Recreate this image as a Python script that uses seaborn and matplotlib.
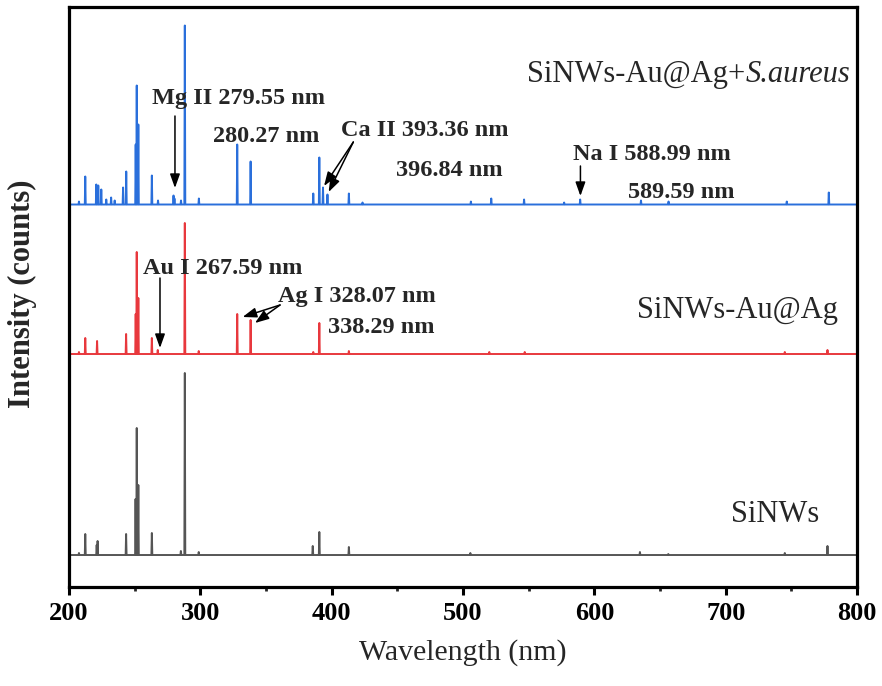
import numpy as np
import pandas as pd
import matplotlib
matplotlib.use("Agg")
import matplotlib.pyplot as plt
import seaborn as sns

# ---- data: emission lines (wavelength nm, relative intensity) ----
sinws_wl = [207.6, 212.4, 221.1, 221.8, 243.5, 250.7, 251.6, 252.8, 263.1, 285.2,
            288.2, 298.8, 385.6, 390.6, 413.1, 505.6, 634.7, 656.3, 745.0, 777.5]
sinws_int = [2, 21, 10, 14, 21, 56, 127, 70, 22, 4,
             182, 3, 9, 23, 8, 2, 3, 1, 2, 9]

auag_wl = [207.6, 212.4, 221.4, 243.5, 250.8, 251.6, 252.8, 263.1, 267.6, 288.2,
           298.8, 328.1, 338.3, 386.0, 390.6, 413.1, 520.0, 547.0, 745.0, 777.5]
auag_int = [2, 16, 13, 20, 40, 102, 56, 16, 4, 131,
            3, 40, 34, 2, 31, 3, 2, 2, 2, 4]

aureus_wl = [207.6, 212.4, 220.8, 222.3, 224.6, 228.4, 232.1, 234.8, 241.2, 243.6,
             250.8, 251.6, 252.8, 263.1, 267.8, 279.6, 280.3, 285.3, 288.2, 298.9,
             328.1, 338.3, 386.0, 390.6, 393.4, 396.8, 413.1, 423.5, 506.0, 521.5,
             546.5, 577.0, 589.2, 635.5, 656.5, 746.5, 778.5]
aureus_int = [3, 28, 20, 19, 15, 5, 7, 4, 17, 33,
              60, 119, 80, 29, 4, 9, 6, 4, 179, 6,
              60, 43, 11, 47, 17, 10, 11, 2, 3, 6,
              5, 2, 5, 4, 3, 3, 12]

samples = ["SiNWs", "SiNWs-Au@Ag", "SiNWs-Au@Ag+S.aureus"]
offsets = {"SiNWs": 32, "SiNWs-Au@Ag": 233, "SiNWs-Au@Ag+S.aureus": 382.5}
colors = {"SiNWs": "#555555", "SiNWs-Au@Ag": "#e8383d", "SiNWs-Au@Ag+S.aureus": "#2a6fdb"}

HW = 0.35  # half width of a line (nm)


def build(name, wl, inten):
    xs, ys = [200.0], [0.0]
    for c, h in sorted(zip(wl, inten)):
        xs += [c - HW, c, c + HW]
        ys += [0.0, h, 0.0]
    xs.append(800.0)
    ys.append(0.0)
    return pd.DataFrame({"wavelength": xs,
                         "intensity": np.array(ys) + offsets[name],
                         "sample": name})


df = pd.concat([build("SiNWs", sinws_wl, sinws_int),
                build("SiNWs-Au@Ag", auag_wl, auag_int),
                build("SiNWs-Au@Ag+S.aureus", aureus_wl, aureus_int)],
               ignore_index=True)

sns.set_theme(style="ticks")
plt.rcParams["font.family"] = ["Liberation Serif", "DejaVu Serif"]

fig = plt.figure(figsize=(8.82, 6.86), dpi=100)
ax = fig.add_axes([0.0782, 0.1443, 0.8935, 0.8455])

sns.lineplot(data=df, x="wavelength", y="intensity", hue="sample",
             palette=colors, estimator=None, sort=False, legend=False,
             linewidth=1.4, ax=ax)

ax.set_xlim(200, 800)
ax.set_ylim(0, 580)
ax.set_yticks([])
ax.set_xticks(range(200, 801, 100))
ax.set_xticks(range(250, 800, 100), minor=True)
for s in ax.spines.values():
    s.set_linewidth(2.3)
    s.set_color("black")
    s.set_visible(True)
ax.tick_params(axis="x", which="major", direction="out", length=6, width=2.2,
               labelsize=19, pad=5, colors="black")
ax.tick_params(axis="x", which="minor", direction="out", length=3, width=2.0)
for lab in ax.get_xticklabels():
    lab.set_fontweight("bold")

ax.set_xlabel("Wavelength (nm)", fontsize=21.5, labelpad=10)
ax.set_ylabel("Intensity (counts)", fontsize=22, fontweight="bold")
ax.yaxis.set_label_coords(-0.041, 0.505)

# sample labels
t_it = ax.text(794.7, 512, "S.aureus", fontsize=22, style="italic", ha="right", va="center")
fig.canvas.draw()
bb = t_it.get_window_extent()
xl, _ = ax.transData.inverted().transform((bb.x0, bb.y0))
ax.text(xl, 512, "SiNWs-Au@Ag+", fontsize=22, ha="right", va="center")
ax.text(785.6, 277, "SiNWs-Au@Ag", fontsize=22, ha="right", va="center")
ax.text(771, 73, "SiNWs", fontsize=22, ha="right", va="center")

# line annotations
bold = dict(fontsize=17.5, fontweight="bold", va="center", ha="left")
ax.text(263, 488, "Mg II 279.55 nm", **bold)
ax.text(309.4, 451, "280.27 nm", **bold)
ax.text(407, 456, "Ca II 393.36 nm", **bold)
ax.text(449.3, 417, "396.84 nm", **bold)
ax.text(583.8, 433, "Na I 588.99 nm", **bold)
ax.text(625.5, 395, "589.59 nm", **bold)
ax.text(256.1, 319, "Au I 267.59 nm", **bold)
ax.text(359.4, 291, "Ag I 328.07 nm", **bold)
ax.text(397, 260, "338.29 nm", **bold)

arrow = dict(arrowstyle="-|>,head_length=0.7,head_width=0.25", color="black", lw=1.1,
             shrinkA=0, shrinkB=0)
ax.annotate("", xy=(280.7, 399), xytext=(280.7, 471), arrowprops=arrow)
ax.annotate("", xy=(394.2, 401), xytext=(416.5, 445), arrowprops=arrow)
ax.annotate("", xy=(397.7, 395), xytext=(416.5, 445), arrowprops=arrow)
ax.annotate("", xy=(589.4, 391), xytext=(589.4, 421), arrowprops=arrow)
ax.annotate("", xy=(269.3, 239), xytext=(269.3, 309), arrowprops=arrow)
ax.annotate("", xy=(332.2, 270), xytext=(360.7, 282), arrowprops=arrow)
ax.annotate("", xy=(341.6, 264), xytext=(360.7, 282), arrowprops=arrow)

fig.savefig("out.png", dpi=100)
